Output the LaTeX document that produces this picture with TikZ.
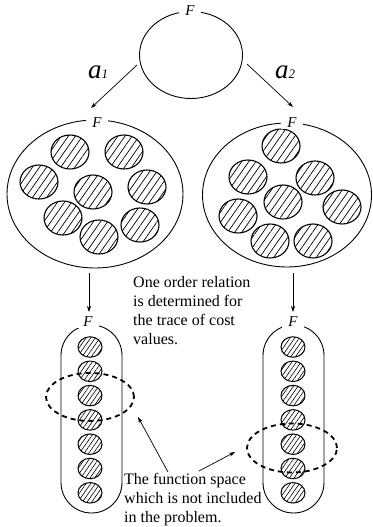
\documentclass[tikz,border=0pt]{standalone}
\usepackage{fontspec}
\setmainfont{Liberation Serif}
\usetikzlibrary{shapes.geometric, patterns.meta, arrows.meta}
\begin{document}
\begin{tikzpicture}[x=1pt,y=-1pt,
 bigell/.style={ellipse, draw, line width=0.9pt, inner sep=0pt},
 hc/.style={ellipse, draw, line width=1.1pt, inner sep=0pt, minimum width=38pt, minimum height=34pt, pattern={Lines[angle=55,distance=5.8pt,line width=0.7pt]}},
 sc/.style={ellipse, draw, line width=1pt, inner sep=0pt, minimum width=24pt, minimum height=20.5pt, pattern={Lines[angle=55,distance=3.8pt,line width=0.6pt]}},
 flab/.style={fill=white, inner xsep=6pt, inner ysep=1pt, font=\fontsize{15}{15}\selectfont\itshape},
 arr/.style={-{Stealth[length=6pt,width=4pt]}, line width=0.7pt},
 dsh/.style={ellipse, draw, line width=1.8pt, dash pattern=on 5pt off 4pt, inner sep=0pt},
 caps/.style={draw, line width=0.9pt, rounded corners=30.5pt, minimum width=61pt, minimum height=188pt, inner sep=0pt},
 txt/.style={align=left, font=\fontsize{16}{19}\selectfont, inner sep=0pt, anchor=north west},
 alab/.style={anchor=base west, inner sep=0pt}
]
\useasboundingbox (0,0) rectangle (372,527);
% top ellipse
\node[bigell, minimum width=103pt, minimum height=87pt] (top) at (191,55) {};
\node[flab] (ftop) at (190,11) {F};
% big ellipses
\node[bigell, minimum width=176pt, minimum height=148pt] (L) at (95,194) {};
\node[bigell, minimum width=169pt, minimum height=144pt] (R) at (287,195) {};
% hatched circles
\foreach \x/\y [count=\i] in {70/152,124/152,39/182,93/192,147/187,63/218,140/225,99/237}
  \node[hc] (l\i) at (\x,\y) {};
\foreach \x/\y [count=\i] in {281/146,248/177,315/178,283/202,342/207,238/216,270/241,313/241}
  \node[hc] (r\i) at (\x,\y) {};
\node[flab] (fL) at (97,123) {F};
\node[flab] (fR) at (292,123) {F};
% labels a1 a2
\node[alab] (a1) at (88,78) {\fontsize{27}{27}\selectfont\itshape a\fontsize{13}{13}\selectfont 1};
\node[alab] (a2) at (275,78) {\fontsize{27}{27}\selectfont\itshape a\fontsize{13}{13}\selectfont 2};
\coordinate (a1s) at (137,65); \coordinate (a1e) at (91,108);
\coordinate (a2s) at (247,64); \coordinate (a2e) at (293,107);
\draw[arr] (a1s) -- (a1e);
\draw[arr] (a2s) -- (a2e);
% capsules
\node[caps] (CL) at (91.5,419) {};
\node[caps] (CR) at (293.5,419) {};
\foreach \i in {1,...,7} {
  \node[sc] (cl\i) at (90,{347+24.3*(\i-1)}) {};
  \node[sc] (cr\i) at (293,{347+24.3*(\i-1)}) {};
}
\node[flab] (fCL) at (88,322) {F};
\node[flab] (fCR) at (293,322) {F};
% vertical arrows
\coordinate (vls) at (89,273); \coordinate (vle) at (89,312);
\coordinate (vrs) at (293,273); \coordinate (vre) at (293,312);
\draw[arr] (vls) -- (vle);
\draw[arr] (vrs) -- (vre);
% dashed ellipses
\node[dsh, minimum width=88pt, minimum height=48pt] (dl) at (90,397) {};
\node[dsh, minimum width=90pt, minimum height=49pt] (dr) at (292,448) {};
% texts
\node[txt] (t1) at (133,276) {One order relation\\is determined for\\the trace of cost\\values.};
\node[txt] (t2) at (124,473) {The function space\\which is not included\\in the problem.};
\coordinate (p1s) at (168,472); \coordinate (p1e) at (138,417);
\coordinate (p2s) at (199,471); \coordinate (p2e) at (235,452);
\draw[arr] (p1s) -- (p1e);
\draw[arr] (p2s) -- (p2e);
\end{tikzpicture}
\end{document}
